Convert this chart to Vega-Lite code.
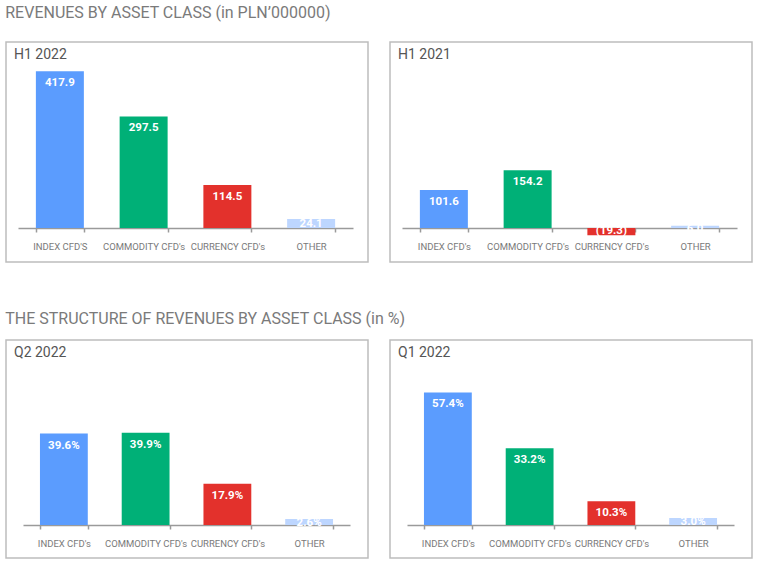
{
  "$schema": "https://vega.github.io/schema/vega-lite/v6.json",
  "padding": {"left": 5, "top": 5, "right": 5, "bottom": 5},
  "background": "white",
  "data": {"values": [
    {"panel": "H1 2022", "cls": "INDEX CFD'S", "value": 417.9, "label": "417.9"},
    {"panel": "H1 2022", "cls": "COMMODITY CFD's", "value": 297.5, "label": "297.5"},
    {"panel": "H1 2022", "cls": "CURRENCY CFD's", "value": 114.5, "label": "114.5"},
    {"panel": "H1 2022", "cls": "OTHER", "value": 24.1, "label": "24.1"},
    {"panel": "H1 2021", "cls": "INDEX CFD's", "value": 101.6, "label": "101.6"},
    {"panel": "H1 2021", "cls": "COMMODITY CFD's", "value": 154.2, "label": "154.2"},
    {"panel": "H1 2021", "cls": "CURRENCY CFD's", "value": -19.3, "label": "(19.3)"},
    {"panel": "H1 2021", "cls": "OTHER", "value": 6.0, "label": "6.0"},
    {"panel": "Q2 2022", "cls": "INDEX CFD's", "value": 39.6, "label": "39.6%"},
    {"panel": "Q2 2022", "cls": "COMMODITY CFD's", "value": 39.9, "label": "39.9%"},
    {"panel": "Q2 2022", "cls": "CURRENCY CFD's", "value": 17.9, "label": "17.9%"},
    {"panel": "Q2 2022", "cls": "OTHER", "value": 2.6, "label": "2.6%"},
    {"panel": "Q1 2022", "cls": "INDEX CFD's", "value": 57.4, "label": "57.4%"},
    {"panel": "Q1 2022", "cls": "COMMODITY CFD's", "value": 33.2, "label": "33.2%"},
    {"panel": "Q1 2022", "cls": "CURRENCY CFD's", "value": 10.3, "label": "10.3%"},
    {"panel": "Q1 2022", "cls": "OTHER", "value": 3.0, "label": "3.0%"}
  ]},
  "spacing": 48,
  "vconcat": [
    {
      "title": {"text": "REVENUES BY ASSET CLASS (in PLN’000000)", "anchor": "start", "fontSize": 16, "font": "Roboto", "fontWeight": "normal", "color": "#7a7a7a", "offset": 20, "dx": 0},
      "spacing": 20,
      "hconcat": [
        {
          "width": 362, "height": 220,
          "title": {"text": "H1 2022"},
          "transform": [{"filter": "datum.panel === 'H1 2022'"}],
          "encoding": {"x": {"field": "cls", "type": "nominal", "sort": null, "scale": {"range": [12, 347], "paddingInner": 0.427, "paddingOuter": 0.2135}, "axis": {"offset": -34}}},
          "layer": [
            {"mark": "bar", "encoding": {"y": {"field": "value", "type": "quantitative", "scale": {"domain": [-90.7, 496], "nice": false, "zero": false}, "axis": null}, "color": {"field": "cls", "type": "nominal", "scale": {"domain": ["INDEX CFD'S", "INDEX CFD's", "COMMODITY CFD's", "CURRENCY CFD's", "OTHER"], "range": ["#5b9cfe", "#5b9cfe", "#00b077", "#e3312c", "#bdd6ff"]}, "legend": null}}},
            {"transform": [{"filter": "datum.value >= 0 && datum.cls !== 'OTHER'"}], "mark": {"type": "text", "baseline": "middle", "dy": 12, "color": "white", "fontWeight": "bold", "fontSize": 11.5, "font": "Roboto"}, "encoding": {"y": {"field": "value", "type": "quantitative"}, "text": {"field": "label"}}},
            {"transform": [{"filter": "datum.cls === 'OTHER'"}], "mark": {"type": "text", "baseline": "middle", "dy": 5, "color": "white", "fontWeight": "bold", "fontSize": 11.5, "font": "Roboto"}, "encoding": {"y": {"field": "value", "type": "quantitative"}, "text": {"field": "label"}}},
            {"transform": [{"filter": "datum.value < 0"}], "mark": {"type": "text", "baseline": "middle", "dy": -4, "color": "white", "fontWeight": "bold", "fontSize": 11.5, "font": "Roboto"}, "encoding": {"y": {"field": "value", "type": "quantitative"}, "text": {"field": "label"}}}
          ]
        },
        {
          "width": 362, "height": 220,
          "title": {"text": "H1 2021"},
          "transform": [{"filter": "datum.panel === 'H1 2021'"}],
          "encoding": {"x": {"field": "cls", "type": "nominal", "sort": null, "scale": {"range": [12, 347], "paddingInner": 0.427, "paddingOuter": 0.2135}, "axis": {"offset": -34}}},
          "layer": [
            {"mark": "bar", "encoding": {"y": {"field": "value", "type": "quantitative", "scale": {"domain": [-90.7, 496], "nice": false, "zero": false}, "axis": null}, "color": {"field": "cls", "type": "nominal", "scale": {"domain": ["INDEX CFD'S", "INDEX CFD's", "COMMODITY CFD's", "CURRENCY CFD's", "OTHER"], "range": ["#5b9cfe", "#5b9cfe", "#00b077", "#e3312c", "#bdd6ff"]}, "legend": null}}},
            {"transform": [{"filter": "datum.value >= 0 && datum.cls !== 'OTHER'"}], "mark": {"type": "text", "baseline": "middle", "dy": 12, "color": "white", "fontWeight": "bold", "fontSize": 11.5, "font": "Roboto"}, "encoding": {"y": {"field": "value", "type": "quantitative"}, "text": {"field": "label"}}},
            {"transform": [{"filter": "datum.cls === 'OTHER'"}], "mark": {"type": "text", "baseline": "middle", "dy": 3, "color": "white", "fontWeight": "bold", "fontSize": 11.5, "font": "Roboto"}, "encoding": {"y": {"field": "value", "type": "quantitative"}, "text": {"field": "label"}}},
            {"transform": [{"filter": "datum.value < 0"}], "mark": {"type": "text", "baseline": "middle", "dy": -4, "color": "white", "fontWeight": "bold", "fontSize": 11.5, "font": "Roboto"}, "encoding": {"y": {"field": "value", "type": "quantitative"}, "text": {"field": "label"}}}
          ]
        }
      ]
    },
    {
      "title": {"text": "THE STRUCTURE OF REVENUES BY  ASSET CLASS (in %)", "anchor": "start", "fontSize": 16, "font": "Roboto", "fontWeight": "normal", "color": "#7a7a7a", "offset": 12, "dx": 0},
      "spacing": 20,
      "hconcat": [
        {
          "width": 362, "height": 218,
          "title": {"text": "Q2 2022"},
          "transform": [{"filter": "datum.panel === 'Q2 2022'"}],
          "encoding": {"x": {"field": "cls", "type": "nominal", "sort": null, "scale": {"range": [17, 344], "paddingInner": 0.415, "paddingOuter": 0.2075}, "axis": {"offset": -33}}},
          "layer": [
            {"mark": "bar", "encoding": {"y": {"field": "value", "type": "quantitative", "scale": {"domain": [-14.3, 80.1], "nice": false, "zero": false}, "axis": null}, "color": {"field": "cls", "type": "nominal", "scale": {"domain": ["INDEX CFD'S", "INDEX CFD's", "COMMODITY CFD's", "CURRENCY CFD's", "OTHER"], "range": ["#5b9cfe", "#5b9cfe", "#00b077", "#e3312c", "#bdd6ff"]}, "legend": null}}},
            {"transform": [{"filter": "datum.cls !== 'OTHER'"}], "mark": {"type": "text", "baseline": "middle", "dy": 12, "color": "white", "fontWeight": "bold", "fontSize": 11.5, "font": "Roboto"}, "encoding": {"y": {"field": "value", "type": "quantitative"}, "text": {"field": "label"}}},
            {"transform": [{"filter": "datum.cls === 'OTHER'"}], "mark": {"type": "text", "baseline": "middle", "dy": 4, "color": "white", "fontWeight": "bold", "fontSize": 11.5, "font": "Roboto"}, "encoding": {"y": {"field": "value", "type": "quantitative"}, "text": {"field": "label"}}}
          ]
        },
        {
          "width": 362, "height": 218,
          "title": {"text": "Q1 2022"},
          "transform": [{"filter": "datum.panel === 'Q1 2022'"}],
          "encoding": {"x": {"field": "cls", "type": "nominal", "sort": null, "scale": {"range": [17, 344], "paddingInner": 0.415, "paddingOuter": 0.2075}, "axis": {"offset": -33}}},
          "layer": [
            {"mark": "bar", "encoding": {"y": {"field": "value", "type": "quantitative", "scale": {"domain": [-14.3, 80.1], "nice": false, "zero": false}, "axis": null}, "color": {"field": "cls", "type": "nominal", "scale": {"domain": ["INDEX CFD'S", "INDEX CFD's", "COMMODITY CFD's", "CURRENCY CFD's", "OTHER"], "range": ["#5b9cfe", "#5b9cfe", "#00b077", "#e3312c", "#bdd6ff"]}, "legend": null}}},
            {"transform": [{"filter": "datum.cls !== 'OTHER'"}], "mark": {"type": "text", "baseline": "middle", "dy": 12, "color": "white", "fontWeight": "bold", "fontSize": 11.5, "font": "Roboto"}, "encoding": {"y": {"field": "value", "type": "quantitative"}, "text": {"field": "label"}}},
            {"transform": [{"filter": "datum.cls === 'OTHER'"}], "mark": {"type": "text", "baseline": "middle", "dy": 4, "color": "white", "fontWeight": "bold", "fontSize": 11.5, "font": "Roboto"}, "encoding": {"y": {"field": "value", "type": "quantitative"}, "text": {"field": "label"}}}
          ]
        }
      ]
    }
  ],
  "resolve": {"scale": {"color": "shared"}},
  "config": {
    "font": "Roboto",
    "view": {"stroke": "#bdbdbd", "strokeWidth": 1.5},
    "title": {"anchor": "start", "fontSize": 14, "font": "Roboto", "fontWeight": "normal", "color": "#555555", "offset": -20, "dx": 8, "baseline": "middle"},
    "axisX": {"title": null, "labelAngle": 0, "tickBand": "extent", "domainColor": "#9a9a9a", "domainWidth": 1.5, "tickColor": "#9a9a9a", "tickWidth": 1.5, "tickSize": 4, "labelColor": "#7a7a7a", "labelFontSize": 9.5, "labelFont": "Roboto", "labelPadding": 9, "grid": false}
  }
}
